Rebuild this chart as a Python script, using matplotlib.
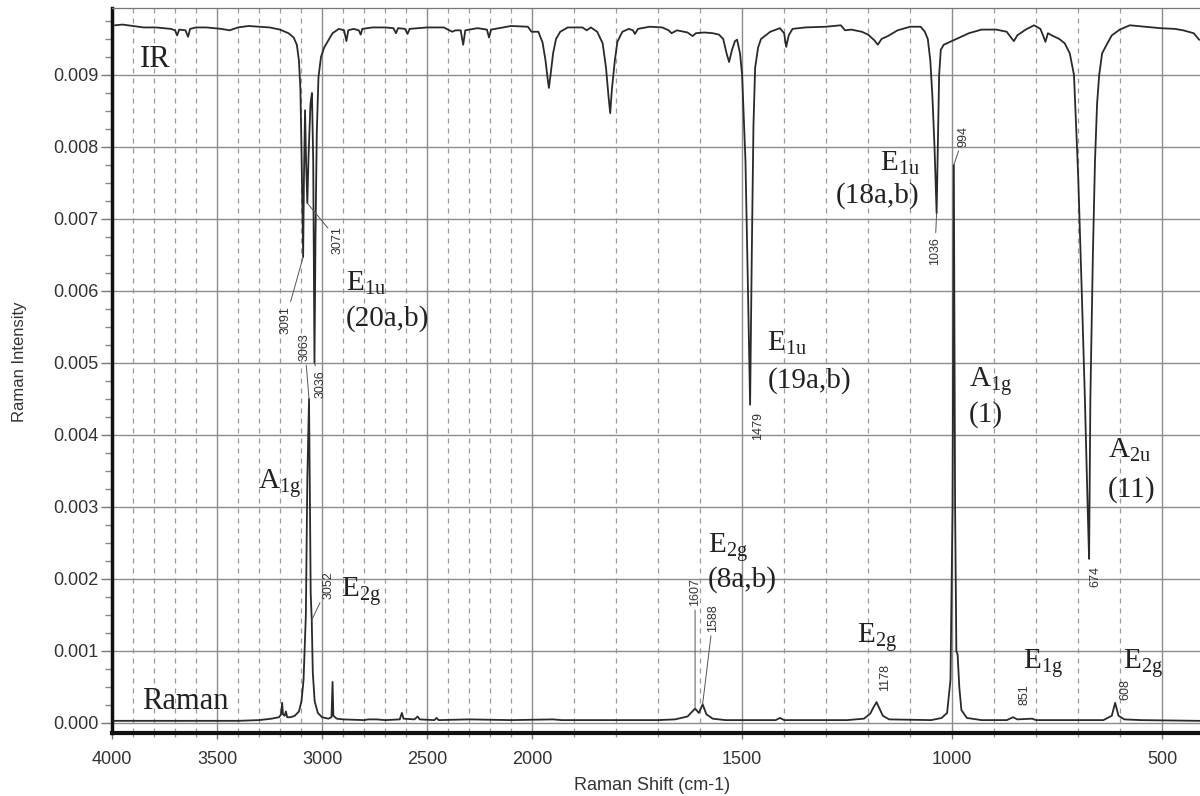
import numpy as np
import matplotlib
matplotlib.use("Agg")
import matplotlib.pyplot as plt
from matplotlib.ticker import MultipleLocator, FormatStrFormatter

plt.rcParams["mathtext.fontset"] = "custom"
plt.rcParams["mathtext.rm"] = "Liberation Serif"
plt.rcParams["mathtext.it"] = "Liberation Serif:italic"
plt.rcParams["mathtext.bf"] = "Liberation Serif:bold"

# intensities in units of 1e-3
SCALE = 1e-3

# IR trace (transmission, drawn on the same intensity axis)
ir_wn = [3985, 3950, 3900, 3850, 3790, 3720, 3700, 3690, 3680, 3650, 3638, 3628,
         3600, 3550, 3480, 3440, 3400, 3350, 3300, 3250, 3200, 3160, 3135, 3120,
         3110, 3103, 3098, 3094, 3090, 3086, 3081, 3076, 3070, 3064, 3055, 3048,
         3042, 3036, 3031, 3025, 3017, 3005, 2990, 2974, 2950, 2920, 2895, 2884,
         2875, 2850, 2825, 2816, 2808, 2760, 2700, 2660, 2648, 2638, 2605, 2593,
         2583, 2500, 2420, 2380, 2365, 2340, 2328, 2318, 2260, 2215, 2205, 2195,
         2100, 2020, 2003, 1995, 1985, 1975, 1968, 1963, 1960, 1956, 1950, 1943,
         1933, 1915, 1880, 1870, 1860, 1845, 1832, 1824, 1818, 1814, 1810, 1803,
         1797, 1785, 1770, 1760, 1755, 1748, 1720, 1690, 1675, 1668, 1655, 1630,
         1618, 1610, 1590, 1570, 1555, 1545, 1537, 1531, 1524, 1517, 1512, 1505,
         1500, 1492, 1486, 1481, 1477, 1473, 1469, 1462, 1455, 1433, 1410, 1400,
         1395, 1389, 1380, 1350, 1300, 1265, 1255, 1240, 1215, 1200, 1185, 1177,
         1168, 1153, 1130, 1100, 1075, 1065, 1058, 1052, 1047, 1042, 1037, 1034,
         1031, 1027, 1020, 1005, 990, 960, 930, 895, 870, 860, 853, 845, 825, 805,
         790, 783, 778, 772, 763, 745, 732, 720, 710, 700, 691, 684, 677, 674, 671,
         665, 660, 655, 650, 643, 635, 620, 601, 577, 540, 505, 470, 450, 425, 412]
ir_val = [9.69, 9.70, 9.68, 9.66, 9.66, 9.64, 9.62, 9.55, 9.63, 9.62, 9.53, 9.64,
          9.66, 9.66, 9.64, 9.62, 9.66, 9.68, 9.67, 9.66, 9.63, 9.58, 9.52, 9.42,
          9.20, 8.80, 8.00, 7.20, 6.47, 7.60, 8.51, 7.80, 7.22, 7.90, 8.60, 8.75,
          7.80, 5.00, 6.80, 8.20, 8.97, 9.25, 9.38, 9.46, 9.58, 9.64, 9.62, 9.47,
          9.62, 9.64, 9.62, 9.56, 9.64, 9.66, 9.66, 9.65, 9.58, 9.65, 9.64, 9.57,
          9.64, 9.66, 9.66, 9.60, 9.62, 9.62, 9.42, 9.62, 9.65, 9.63, 9.52, 9.63,
          9.68, 9.67, 9.60, 9.60, 9.60, 9.45, 9.20, 8.95, 8.82, 9.00, 9.30, 9.50,
          9.60, 9.66, 9.66, 9.62, 9.66, 9.60, 9.44, 9.10, 8.70, 8.47, 8.80, 9.20,
          9.46, 9.60, 9.64, 9.62, 9.57, 9.64, 9.67, 9.66, 9.62, 9.58, 9.62, 9.59,
          9.54, 9.58, 9.59, 9.58, 9.56, 9.50, 9.30, 9.18, 9.35, 9.47, 9.49, 9.30,
          9.00, 7.80, 6.00, 4.42, 6.50, 8.30, 9.10, 9.38, 9.50, 9.60, 9.65, 9.58,
          9.39, 9.55, 9.64, 9.66, 9.67, 9.69, 9.62, 9.63, 9.60, 9.56, 9.48, 9.42,
          9.50, 9.54, 9.62, 9.67, 9.67, 9.60, 9.50, 9.20, 8.70, 8.00, 7.08, 8.00,
          9.00, 9.35, 9.42, 9.46, 9.50, 9.58, 9.63, 9.63, 9.60, 9.52, 9.47, 9.55,
          9.63, 9.69, 9.64, 9.54, 9.46, 9.58, 9.55, 9.50, 9.44, 9.30, 9.00, 7.60,
          5.90, 4.50, 2.90, 2.28, 4.50, 6.50, 7.80, 8.60, 9.00, 9.30, 9.39, 9.55,
          9.63, 9.69, 9.67, 9.65, 9.64, 9.62, 9.58, 9.49]

# Raman trace
raman_wn = [3990, 3700, 3400, 3300, 3240, 3205, 3195, 3190, 3186, 3178, 3172, 3166,
            3150, 3130, 3110, 3098, 3088, 3077, 3070, 3062, 3058, 3054, 3049, 3044,
            3035, 3020, 3000, 2970, 2955, 2950, 2946, 2930, 2900, 2800, 2780, 2740,
            2700, 2630, 2620, 2612, 2560, 2545, 2535, 2465, 2455, 2445, 2300, 2100,
            1950, 1930, 1700, 1660, 1630, 1612, 1603, 1594, 1585, 1570, 1540, 1420,
            1410, 1400, 1250, 1210, 1195, 1187, 1180, 1173, 1165, 1150, 1050, 1025,
            1012, 1004, 999, 996, 993, 990, 987, 983, 978, 965, 930, 870, 855, 845,
            810, 800, 700, 640, 620, 612, 604, 590, 550, 412]
raman_val = [0.03, 0.03, 0.03, 0.04, 0.06, 0.08, 0.12, 0.28, 0.12, 0.10, 0.16, 0.08,
             0.08, 0.10, 0.16, 0.30, 0.60, 1.50, 3.40, 4.50, 3.20, 1.80, 1.43, 0.70,
             0.30, 0.14, 0.08, 0.06, 0.08, 0.57, 0.10, 0.06, 0.05, 0.04, 0.05, 0.05,
             0.04, 0.05, 0.14, 0.06, 0.05, 0.09, 0.05, 0.04, 0.07, 0.04, 0.05, 0.04,
             0.05, 0.04, 0.04, 0.05, 0.09, 0.20, 0.14, 0.26, 0.12, 0.06, 0.04, 0.04,
             0.07, 0.04, 0.04, 0.06, 0.13, 0.22, 0.29, 0.20, 0.10, 0.05, 0.04, 0.07,
             0.14, 0.60, 3.00, 7.75, 3.00, 1.00, 0.95, 0.50, 0.18, 0.07, 0.04, 0.04,
             0.08, 0.05, 0.06, 0.04, 0.04, 0.04, 0.10, 0.28, 0.10, 0.05, 0.04, 0.03]

# peak numbers: (text, peak wavenumber, peak value, text wavenumber, text value, leader?)
peak_labels = [
    ("3091", 3090, 6.47, 3174, 5.60, True),
    ("3071", 3070, 7.22, 2926, 6.71, True),
    ("3063", 3062, 4.50, 3082, 5.22, True),
    ("3036", 3036, 5.00, 3007, 4.71, True),
    ("3052", 3049, 1.43, 2969, 1.92, True),
    ("1479", 1481, 4.42, 1462, 4.12, False),
    ("1036", 1037, 7.08, 1041, 6.56, True),
    ("994", 996, 7.75, 973, 8.15, True),
    ("1607", 1612, 0.20, 1612, 1.82, True),
    ("1588", 1594, 0.26, 1569, 1.46, True),
    ("1178", 1180, 0.29, 1159, 0.63, False),
    ("851", 855, 0.08, 828, 0.40, False),
    ("608", 612, 0.28, 587, 0.46, False),
    ("674", 674, 2.28, 659, 2.03, False),
]

# symmetry labels: (species, mode, wavenumber of left edge, value)
species_labels = [
    (r"$\mathrm{E}_{\mathrm{1u}}$", "(20a,b)", 2888, 6.11, 5.62, "left"),
    (r"$\mathrm{E}_{\mathrm{1u}}$", "(19a,b)", 1440, 5.28, 4.76, "left"),
    (r"$\mathrm{E}_{\mathrm{1u}}$", "(18a,b)", 1077, 7.78, 7.33, "right"),
    (r"$\mathrm{A}_{\mathrm{1g}}$", "(1)", 961, 4.74, 4.28, "left"),
    (r"$\mathrm{A}_{\mathrm{2u}}$", "(11)", 630, 3.79, 3.24, "left"),
    (r"$\mathrm{A}_{\mathrm{1g}}$", "", 3303, 3.33, 0, "left"),
    (r"$\mathrm{E}_{\mathrm{2g}}$", "", 2912, 1.83, 0, "left"),
    (r"$\mathrm{E}_{\mathrm{2g}}$", "(8a,b)", 1581, 2.44, 1.99, "left"),
    (r"$\mathrm{E}_{\mathrm{2g}}$", "", 1227, 1.19, 0, "left"),
    (r"$\mathrm{E}_{\mathrm{1g}}$", "", 831, 0.82, 0, "left"),
    (r"$\mathrm{E}_{\mathrm{2g}}$", "", 594, 0.83, 0, "left"),
]


# the chart's x axis is compressed by two above 2000 cm-1
def fwd(x):
    x = np.asarray(x, dtype=float)
    return np.where(x > 2000, 2000 + (x - 2000) / 2.0, x)


def inv(u):
    u = np.asarray(u, dtype=float)
    return np.where(u > 2000, 2000 + (u - 2000) * 2.0, u)


fig = plt.figure(figsize=(12, 7.96), dpi=100)
ax = fig.add_axes([112 / 1200, 63 / 796, 1088 / 1200, 725 / 796])
ax.set_xscale("function", functions=(fwd, inv))
ax.set_xlim(4000, 410)
ax.set_ylim(-0.000139, 0.00993)

ink = "#2a2a2a"
ax.plot(ir_wn, np.array(ir_val) * SCALE, color=ink, lw=1.3, zorder=3)
ax.plot(raman_wn, np.array(raman_val) * SCALE, color=ink, lw=1.3, zorder=3)

# grid and ticks
ax.xaxis.set_major_locator(MultipleLocator(500))
ax.xaxis.set_minor_locator(MultipleLocator(100))
ax.yaxis.set_major_locator(MultipleLocator(0.001))
ax.yaxis.set_minor_locator(MultipleLocator(0.00025))
ax.yaxis.set_major_formatter(FormatStrFormatter("%.3f"))
ax.grid(which="major", ls="-", color="#8c8c8c", lw=1.0, zorder=1)
ax.grid(which="minor", axis="x", ls=(0, (4, 4)), color="#9a9a9a", lw=0.9, zorder=1)
ax.set_axisbelow(True)

ax.tick_params(axis="y", which="major", direction="out", length=8, width=1,
               color="#777", pad=1.5, labelsize=13, labelcolor="#333")
ax.tick_params(axis="y", which="minor", direction="out", length=5, width=1, color="#888")
ax.tick_params(axis="x", which="major", direction="out", length=4, width=1,
               color="#777", pad=9, labelsize=13, labelcolor="#333")
ax.tick_params(axis="x", which="minor", direction="out", length=3, width=1, color="#999")
for lab in ax.get_xticklabels() + ax.get_yticklabels():
    lab.set_fontfamily("Liberation Sans")

ax.spines["left"].set_linewidth(2.5)
ax.spines["left"].set_color("#111")
ax.spines["bottom"].set_linewidth(3)
ax.spines["bottom"].set_color("#111")
ax.spines["top"].set_linewidth(0.9)
ax.spines["top"].set_color("#777")
ax.spines["right"].set_visible(False)

fig.text(652 / 1200, 1 - 785 / 796, "Raman Shift (cm-1)", ha="center", va="center",
         fontsize=13, family="Liberation Sans", color="#333")
fig.text(20 / 1200, 1 - 362 / 796, "Raman Intensity", rotation=90, ha="center",
         va="center", fontsize=12, family="Liberation Sans", color="#333")

# spectrum names
serif = "Liberation Serif"
ax.text(3866, 9.21 * SCALE, "IR", fontsize=22, family=serif, color="#222",
        ha="left", va="center")
ax.text(3857, 0.30 * SCALE, "Raman", fontsize=22, family=serif, color="#222",
        ha="left", va="center")

# peak numbers with leader lines
for txt, px, py, tx, ty, leader in peak_labels:
    if leader:
        ax.annotate(txt, xy=(px, py * SCALE), xytext=(tx, ty * SCALE),
                    rotation=90, ha="center", va="center", fontsize=9,
                    family="Liberation Sans", color="#333",
                    arrowprops=dict(arrowstyle="-", color="#555", lw=0.7,
                                    shrinkA=1, shrinkB=0))
    else:
        ax.text(tx, ty * SCALE, txt, rotation=90, ha="center", va="center",
                fontsize=9, family="Liberation Sans", color="#333")

# symmetry species and mode numbers
for sp, mode, x, y_sp, y_mode, align in species_labels:
    ax.text(x, y_sp * SCALE, sp, fontsize=21, color="#222", ha=align, va="center")
    if mode:
        ax.text(x, y_mode * SCALE, mode, fontsize=21, family=serif, color="#222",
                ha=align, va="center")

fig.savefig("out.png", dpi=100)
